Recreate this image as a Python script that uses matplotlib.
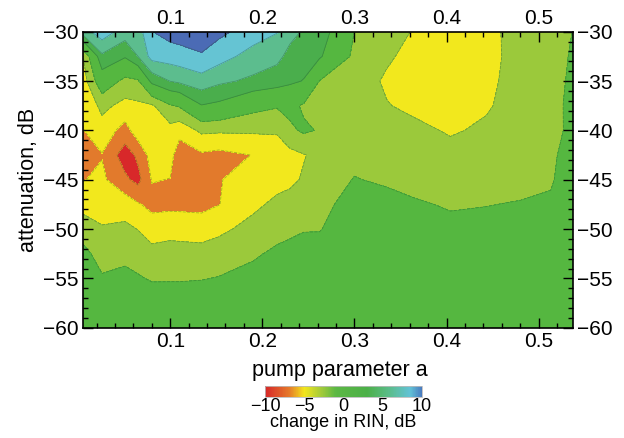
import numpy as np
import matplotlib
matplotlib.use('agg')
import matplotlib.pyplot as plt
from matplotlib.colors import LinearSegmentedColormap, Normalize
from matplotlib.cm import ScalarMappable

plt.rcParams['font.family'] = ['Liberation Sans', 'DejaVu Sans']

# pump parameter a (columns) and attenuation in dB (rows)
pump = [0.005, 0.026, 0.051, 0.065, 0.080, 0.100, 0.110, 0.134, 0.153, 0.19, 0.216,
        0.230, 0.245, 0.262, 0.30, 0.335, 0.363, 0.404, 0.443, 0.48, 0.513, 0.537]
atten = [-30, -32.5, -35, -37.5, -40, -42.5, -45, -47.5, -50, -52.5, -55, -57.5, -60]

# change in RIN (dB), one list per pump column, top (-30 dB) to bottom (-60 dB)
rin_cols = [
    [5.0, -3.2, -4.0, -4.6, -5.1, -6.3, -5.1, -3.7, -1.9, -0.4, 0.3, 0.5, 0.5],
    [7.2, 3.6, 0.6, -2.5, -3.8, -5.1, -4.6, -3.5, -2.9, -1.8, -0.8, 0.2, 0.4],
    [5.0, 2.2, -1.6, -3.6, -5.8, -8.0, -6.6, -3.9, -2.6, -1.5, -0.5, 0.3, 0.5],
    [5.0, 4.0, -1.3, -3.4, -3.9, -6.6, -7.6, -4.8, -3.05, -1.9, -0.8, 0.3, 0.5],
    [7.95, 6.7, 2.6, -3.3, -3.8, -4.2, -4.9, -5.6, -3.9, -2.4, -1.2, 0.2, 0.5],
    [8.8, 6.9, 4.05, -1.2, -3.7, -4.3, -5.05, -5.5, -3.7, -2.2, -1.2, 0.3, 0.6],
    [9.0, 7.1, 4.4, -0.8, -4.3, -6.2, -6.4, -5.5, -3.8, -2.2, -1.2, 0.3, 0.6],
    [9.6, 7.7, 5.2, 1.9, -2.6, -5.3, -6.0, -5.6, -3.9, -2.3, -1.1, 0.3, 0.6],
    [8.5, 6.8, 4.4, 1.5, -2.7, -5.6, -5.1, -5.05, -3.4, -2.1, -0.9, 0.3, 0.6],
    [7.0, 5.2, 3.6, -0.3, -2.7, -4.95, -4.2, -3.4, -2.4, -1.3, -0.3, 0.4, 0.6],
    [6.1, 4.5, 3.0, -0.8, -2.8, -3.9, -3.6, -2.6, -1.7, -0.6, 0.2, 0.5, 0.6],
    [4.6, 3.4, 2.4, -0.4, -1.4, -3.6, -3.4, -2.3, -1.4, -0.4, 0.2, 0.5, 0.6],
    [3.8, 2.9, 1.9, -1.3, -0.7, -3.1, -2.8, -1.9, -1.1, -0.3, 0.3, 0.5, 0.6],
    [3.3, 2.3, -1.05, -1.45, -1.15, -2.5, -2.2, -1.6, -1.1, -0.2, 0.3, 0.5, 0.6],
    [-1.02, -1.5, -1.9, -2.0, -1.9, -1.6, -0.9, -0.2, 0.2, 0.4, 0.5, 0.6, 0.6],
    [-2.0, -2.7, -3.3, -2.9, -2.3, -1.7, -1.3, -0.3, 0.2, 0.4, 0.5, 0.6, 0.6],
    [-3.1, -3.6, -3.8, -3.4, -2.5, -1.9, -1.5, -0.8, 0.1, 0.4, 0.5, 0.6, 0.6],
    [-3.8, -4.0, -3.9, -3.6, -3.2, -2.4, -1.8, -1.15, -0.6, 0.2, 0.4, 0.5, 0.6],
    [-3.6, -3.5, -3.4, -3.2, -2.7, -2.2, -1.8, -1.05, -0.5, 0.2, 0.4, 0.5, 0.6],
    [-2.2, -2.4, -2.3, -2.2, -2.0, -1.8, -1.5, -0.9, -0.3, 0.2, 0.4, 0.5, 0.6],
    [-1.6, -1.6, -1.5, -1.5, -1.4, -1.3, -1.15, -0.8, -0.2, 0.2, 0.4, 0.5, 0.6],
    [-0.98, -0.84, -0.75, -0.6, -0.7, -0.3, -0.2, 0.0, 0.3, 0.4, 0.5, 0.6, 0.6],
]

levels = [-20, -7, -5, -3, -1, 2, 4, 6, 8, 20]
band_colors = ['#d8282a', '#e27a2c', '#f2e81d', '#9bc93b', '#55b740',
               '#4aae4c', '#5cbd8e', '#65c4d3', '#4b6bb5']

X, Y = np.meshgrid(pump, atten)
Z = np.array(rin_cols).T

fig = plt.figure(figsize=(6.24, 4.38), dpi=100)
ax = fig.add_axes([0.1325, 0.2518, 0.7855, 0.6758])

ax.contourf(X, Y, Z, levels=levels, colors=band_colors)
ax.contour(X, Y, Z, levels=levels[1:-1], colors='#1d4d1d', linewidths=0.6, alpha=0.35)

ax.set_xlim(0.005, 0.537)
ax.set_ylim(-60, -30)
ax.set_xticks([0.1, 0.2, 0.3, 0.4, 0.5])
ax.set_xticks(np.arange(0.02, 0.54, 0.02), minor=True)
ax.set_yticks([-60, -55, -50, -45, -40, -35, -30])
ax.set_yticks(np.arange(-60, -29, 1), minor=True)
ax.tick_params(which='both', direction='in', top=True, right=True,
               labeltop=True, labelright=True, width=1.0, labelsize=15)
ax.tick_params(which='major', length=7, pad=3)
ax.tick_params(which='minor', length=3.5)
for s in ax.spines.values():
    s.set_linewidth(1.2)

ax.set_xlabel('pump parameter a', fontsize=15.5)
ax.xaxis.set_label_coords(0.525, -0.108)
ax.set_ylabel('attenuation, dB', fontsize=15.5, labelpad=3)

# continuous colour bar under the plot
cmap = LinearSegmentedColormap.from_list('rin', [
    (0.0, '#d62728'), (0.15, '#e5782a'), (0.25, '#f3e61c'), (0.35, '#a8cc38'),
    (0.45, '#5cb844'), (0.65, '#4cb048'), (0.8, '#5bbd8e'), (0.925, '#62c2d6'),
    (1.0, '#4a7cc0')])
cax = fig.add_axes([0.4247, 0.0943, 0.2516, 0.0251])
cb = fig.colorbar(ScalarMappable(norm=Normalize(-10, 10), cmap=cmap), cax=cax,
                  orientation='horizontal', ticks=[-10, -5, 0, 5, 10])
cb.outline.set_edgecolor('#bbbbbb')
cb.outline.set_linewidth(0.6)
cax.tick_params(length=0, labelsize=13, pad=1)
cb.set_label('change in RIN, dB', fontsize=13, labelpad=-1)

fig.savefig('out.png', dpi=100)
